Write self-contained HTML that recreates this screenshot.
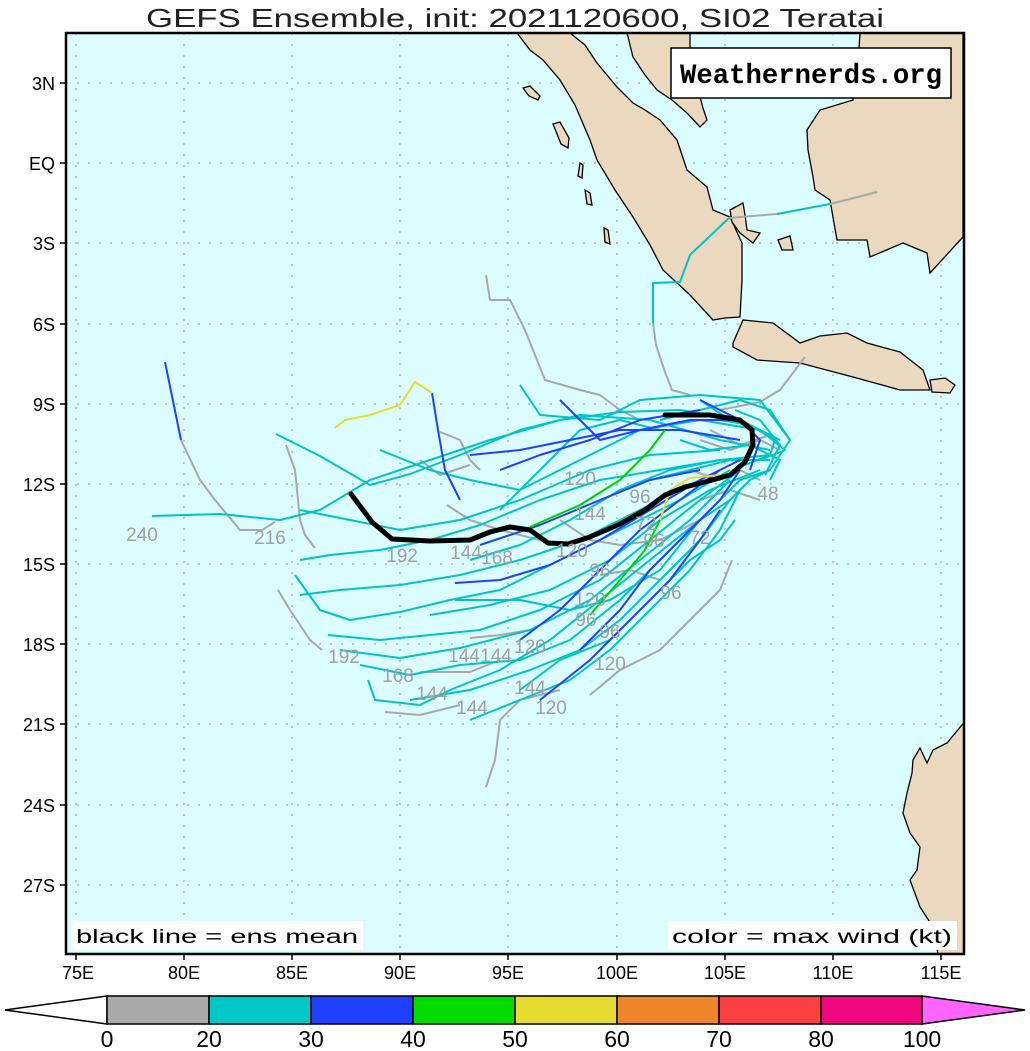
<!DOCTYPE html>
<html><head><meta charset="utf-8"><style>html,body{margin:0;padding:0;background:#fff}svg{display:block}</style></head><body>
<svg width="1030" height="1051" viewBox="0 0 1030 1051" xmlns="http://www.w3.org/2000/svg" font-family="Liberation Sans, sans-serif">
<text x="515" y="27" text-anchor="middle" font-size="26" textLength="738" lengthAdjust="spacingAndGlyphs" fill="#222">GEFS Ensemble, init: 2021120600, SI02 Teratai</text>
<rect x="66" y="33" width="898" height="921" fill="#dbfdff"/>
<g stroke="#aaa" stroke-width="1.3" stroke-dasharray="2,9">
<line x1="76" y1="33" x2="76" y2="954"/><line x1="184" y1="33" x2="184" y2="954"/><line x1="292" y1="33" x2="292" y2="954"/><line x1="400" y1="33" x2="400" y2="954"/><line x1="508" y1="33" x2="508" y2="954"/><line x1="617" y1="33" x2="617" y2="954"/><line x1="725" y1="33" x2="725" y2="954"/><line x1="833" y1="33" x2="833" y2="954"/><line x1="941" y1="33" x2="941" y2="954"/>
<line x1="66" y1="83" x2="964" y2="83"/><line x1="66" y1="163" x2="964" y2="163"/><line x1="66" y1="243" x2="964" y2="243"/><line x1="66" y1="324" x2="964" y2="324"/><line x1="66" y1="404" x2="964" y2="404"/><line x1="66" y1="484" x2="964" y2="484"/><line x1="66" y1="564" x2="964" y2="564"/><line x1="66" y1="644" x2="964" y2="644"/><line x1="66" y1="724" x2="964" y2="724"/><line x1="66" y1="805" x2="964" y2="805"/><line x1="66" y1="885" x2="964" y2="885"/>
</g>
<g fill="#ead8bf" stroke="#000" stroke-width="1.3">
<polygon points="517,33 530,50 543,60 560,80 575,105 590,140 597,160 615,190 633,217 650,245 663,270 690,295 713,320 725,318 740,317 742,280 742,243 730,217 713,210 707,187 687,170 677,140 660,120 645,110 633,103 617,87 597,63 585,45 570,33"/>
<polygon points="627,33 633,57 645,75 657,90 672,100 687,113 700,127 707,120 703,108 700,97 692,75 690,63 690,33"/>
<polygon points="807,130 820,110 853,100 857,80 860,33 963,33 963,237 930,273 927,253 903,243 870,257 867,240 837,240 830,200 815,190 813,177 808,150"/>
<polygon points="733,343 743,320 773,323 800,343 820,336 847,333 867,343 900,352 923,370 930,390 900,390 853,377 800,363 757,360 733,347"/>
<polygon points="930,380 945,378 955,385 950,393 932,392"/>
<polygon points="730,210 743,203 745,215 747,230 760,233 753,243 740,233 732,222"/>
<polygon points="778,240 790,236 793,250 782,250"/>
<polygon points="964,723 962,725 947,743 933,750 927,763 920,748 913,760 912,773 907,793 903,813 910,833 920,847 917,870 910,880 920,907 933,927 938,954 964,954"/>
<polygon points="523,88 530,86 540,96 538,100 529,96"/><polygon points="553,124 560,122 569,138 568,148 561,144"/><polygon points="580,163 583,165 582,178 578,176"/><polygon points="585,190 590,193 592,205 587,204"/><polygon points="604,228 608,230 610,244 605,242"/>
</g>
<g fill="none" stroke-width="2" stroke-linejoin="round">
<g stroke="#a8a8a8">
<polyline points="181,440 200,480 215,500 240,530 262,530 275,522"/>
<polyline points="486,275 490,300 510,300 525,330 545,380 580,390 600,395 620,410 640,420"/>
<polyline points="286,445 295,470 300,520 305,535 315,548"/>
<polyline points="278,590 290,610 310,640 322,650"/>
<polyline points="486,787 495,760 500,720 520,700 560,690"/>
<polyline points="590,695 620,670 660,650 680,630 700,610 720,590 732,560"/>
<polyline points="600,575 630,570 660,580 680,560"/>
<polyline points="805,357 780,390 760,402 720,410"/>
<polyline points="385,712 420,715 460,705"/>
<polyline points="447,505 470,520 500,530 540,540"/>
<polyline points="440,432 460,440 470,460 480,470"/>
<polyline points="420,672 470,672 500,660"/>
<polyline points="653,323 656,345 665,372 672,390 690,395"/>
<polyline points="729,218 777,214"/><polyline points="830,204 877,192"/>
<polyline points="470,638 500,635 530,630"/>
<polyline points="560,520 590,540 620,545 660,540 700,520"/>
<polyline points="420,460 440,475 470,465"/>
<polyline points="700,440 730,450 760,440 780,450"/>
<polyline points="690,470 720,480 740,470 760,480"/>
<polyline points="710,430 740,445 770,435"/><polyline points="700,500 730,490 760,500"/>
</g>
<g stroke="#00c4c4">
<polyline points="152,516 220,514 280,520 320,510 370,480 430,460 490,440 560,420 620,412 680,410 740,420 780,440"/>
<polyline points="276,434 320,456 370,485 410,474 460,455 520,430 580,415 650,420 720,440 770,450"/>
<polyline points="300,510 350,520 400,530 460,520 520,500 590,470 650,455 720,450"/>
<polyline points="295,575 320,610 350,620 400,612 450,600 500,590 560,560 620,530 680,500 730,470"/>
<polyline points="328,635 380,640 430,635 480,630 540,610 600,580 650,540 700,500 740,470"/>
<polyline points="340,650 400,658 460,648 530,630 590,600 640,560 690,520 730,480"/>
<polyline points="300,595 340,590 400,585 460,575 520,560 580,540 640,510 700,480"/>
<polyline points="360,665 410,675 460,665 520,660 570,640 620,600 660,560 700,520 740,480"/>
<polyline points="410,700 470,690 530,670 580,650 620,620 660,580 700,540 730,500"/>
<polyline points="380,450 430,470 470,480 520,490 560,470 600,450 640,430 700,420 760,430"/>
<polyline points="520,385 540,415 600,420 640,400 700,395 760,400 790,440"/>
<polyline points="300,560 330,555 380,550 430,540 480,525 540,500 600,480 660,470 720,460"/>
<polyline points="470,560 520,545 570,520 620,490 670,470 720,460 770,455"/>
<polyline points="430,615 490,605 550,590 610,560 660,520 710,490 760,470"/>
<polyline points="470,720 520,700 570,680 610,650 650,610 690,570 720,530 740,490"/>
<polyline points="500,510 540,470 580,430 620,420 660,430"/>
<polyline points="653,323 653,283 680,282 690,255 729,218"/>
<polyline points="777,214 830,204"/>
<polyline points="368,680 375,700 420,705 450,690 500,670 550,640 600,600 650,560 700,520"/>
<polyline points="520,690 560,660 610,640 650,600 690,560 720,540 735,520"/>
<polyline points="455,600 520,600 570,610 610,600 660,570 700,520"/>
<polyline points="660,420 700,410 740,400 770,410 790,440 770,470 740,480"/>
<polyline points="680,440 710,450 750,445 780,460 770,480"/>
<polyline points="700,400 730,420 760,430 785,450 760,460"/>
<polyline points="650,480 690,470 730,460 770,460"/>
<polyline points="700,520 730,500 750,480 770,470"/>
<polyline points="720,420 750,425 775,440 770,455 745,465"/>
<polyline points="735,410 760,420 780,445 765,475"/>
</g>
<g stroke="#2040ff">
<polyline points="165,362 181,440"/>
<polyline points="432,393 438,430 445,470 460,500"/>
<polyline points="455,583 500,580 550,565 600,540 650,510 700,480 740,460"/>
<polyline points="520,640 560,610 600,570 640,530 680,500 720,470"/>
<polyline points="560,400 600,440 640,430 690,420 740,420"/>
<polyline points="500,470 540,455 590,440 640,420 700,410"/>
<polyline points="580,650 620,610 650,570 690,530 720,500 740,470"/>
<polyline points="540,700 590,660 630,620 670,580 700,540 720,510"/>
<polyline points="470,455 520,450 570,440 620,430 680,430 740,440"/>
<polyline points="480,545 540,525 600,500 650,480 700,470"/>
<polyline points="700,400 740,420 760,440 750,470"/>
</g>
<polyline stroke="#e6dc30" points="335,428 345,420 370,415 400,405 415,382 432,393"/>
<polyline stroke="#e6dc30" points="660,520 670,490 690,478 720,475"/>
<polyline stroke="#00d000" points="530,527 580,505 620,480 650,450 665,430"/>
<polyline stroke="#00d000" points="590,615 620,580 645,550 660,520"/>
<polyline stroke="#000" stroke-width="5" stroke-linecap="round" points="351,494 372,522 392,539 430,541 470,540 490,532 510,527 530,530 548,543 568,544 590,537 620,524 645,510 665,495 685,487 705,482 730,475 745,462 753,445 752,430 740,420 710,415 665,415"/>
</g>
<g fill="#a0a0a0" font-size="19" text-anchor="middle">
<text x="142" y="541">240</text><text x="270" y="544">216</text><text x="402" y="562">192</text><text x="466" y="559">144</text><text x="497" y="564">168</text><text x="580" y="485">120</text><text x="590" y="520">144</text><text x="572" y="557">120</text><text x="640" y="503">96</text><text x="646" y="530">72</text><text x="654" y="547">96</text><text x="600" y="577">96</text><text x="590" y="606">120</text><text x="586" y="626">96</text><text x="610" y="638">96</text><text x="671" y="599">96</text><text x="530" y="653">120</text><text x="496" y="662">144</text><text x="464" y="662">144</text><text x="610" y="670">120</text><text x="344" y="663">192</text><text x="398" y="682">168</text><text x="432" y="700">144</text><text x="472" y="714">144</text><text x="530" y="694">144</text><text x="551" y="714">120</text><text x="768" y="500">48</text><text x="700" y="544">72</text>
</g>
<rect x="66" y="33" width="898" height="921" fill="none" stroke="#000" stroke-width="2.5"/>
<rect x="671" y="48" width="280" height="50" fill="#fff" stroke="#000" stroke-width="1.5"/>
<text x="811" y="83" text-anchor="middle" font-family="Liberation Mono, monospace" font-weight="bold" font-size="28" textLength="262" lengthAdjust="spacingAndGlyphs">Weathernerds.org</text>
<rect x="72" y="921" width="291" height="29" fill="#fff"/>
<text x="217" y="943" text-anchor="middle" font-size="19" textLength="282" lengthAdjust="spacingAndGlyphs">black line = ens mean</text>
<rect x="668" y="921" width="289" height="29" fill="#fff"/>
<text x="812" y="943" text-anchor="middle" font-size="19" textLength="280" lengthAdjust="spacingAndGlyphs">color = max wind (kt)</text>
<g stroke="#000" stroke-width="1.5">
<line x1="60" y1="83" x2="66" y2="83"/><line x1="60" y1="163" x2="66" y2="163"/><line x1="60" y1="243" x2="66" y2="243"/><line x1="60" y1="324" x2="66" y2="324"/><line x1="60" y1="404" x2="66" y2="404"/><line x1="60" y1="484" x2="66" y2="484"/><line x1="60" y1="564" x2="66" y2="564"/><line x1="60" y1="644" x2="66" y2="644"/><line x1="60" y1="724" x2="66" y2="724"/><line x1="60" y1="805" x2="66" y2="805"/><line x1="60" y1="885" x2="66" y2="885"/>
<line x1="76" y1="954" x2="76" y2="960"/><line x1="184" y1="954" x2="184" y2="960"/><line x1="292" y1="954" x2="292" y2="960"/><line x1="400" y1="954" x2="400" y2="960"/><line x1="508" y1="954" x2="508" y2="960"/><line x1="617" y1="954" x2="617" y2="960"/><line x1="725" y1="954" x2="725" y2="960"/><line x1="833" y1="954" x2="833" y2="960"/><line x1="941" y1="954" x2="941" y2="960"/>
</g>
<g font-size="18" text-anchor="end">
<text x="55" y="90">3N</text><text x="55" y="170">EQ</text><text x="55" y="250">3S</text><text x="55" y="331">6S</text><text x="55" y="411">9S</text><text x="55" y="491">12S</text><text x="55" y="571">15S</text><text x="55" y="651">18S</text><text x="55" y="731">21S</text><text x="55" y="812">24S</text><text x="55" y="892">27S</text>
</g>
<g font-size="18" text-anchor="middle">
<text x="78" y="979">75E</text><text x="184" y="979">80E</text><text x="292" y="979">85E</text><text x="400" y="979">90E</text><text x="508" y="979">95E</text><text x="617" y="979">100E</text><text x="725" y="979">105E</text><text x="833" y="979">110E</text><text x="941" y="979">115E</text>
</g>
<g stroke="#000" stroke-width="1.5">
<polygon points="5,1010 107,996 107,1024" fill="#fff"/>
<rect x="107" y="996" width="102" height="28" fill="#aaaaaa"/>
<rect x="209" y="996" width="102" height="28" fill="#00c8c8"/>
<rect x="311" y="996" width="102" height="28" fill="#2040ff"/>
<rect x="413" y="996" width="102" height="28" fill="#00dc00"/>
<rect x="515" y="996" width="102" height="28" fill="#e6dc30"/>
<rect x="617" y="996" width="102" height="28" fill="#f0862a"/>
<rect x="719" y="996" width="102" height="28" fill="#fa4040"/>
<rect x="821" y="996" width="101" height="28" fill="#f0087e"/>
<polygon points="922,996 1025,1010 922,1024" fill="#ff64ff"/>
</g>
<g font-size="23" text-anchor="middle">
<text x="107" y="1047">0</text><text x="209" y="1047">20</text><text x="311" y="1047">30</text><text x="413" y="1047">40</text><text x="515" y="1047">50</text><text x="617" y="1047">60</text><text x="719" y="1047">70</text><text x="821" y="1047">80</text><text x="922" y="1047">100</text>
</g>
</svg>
</body></html>
